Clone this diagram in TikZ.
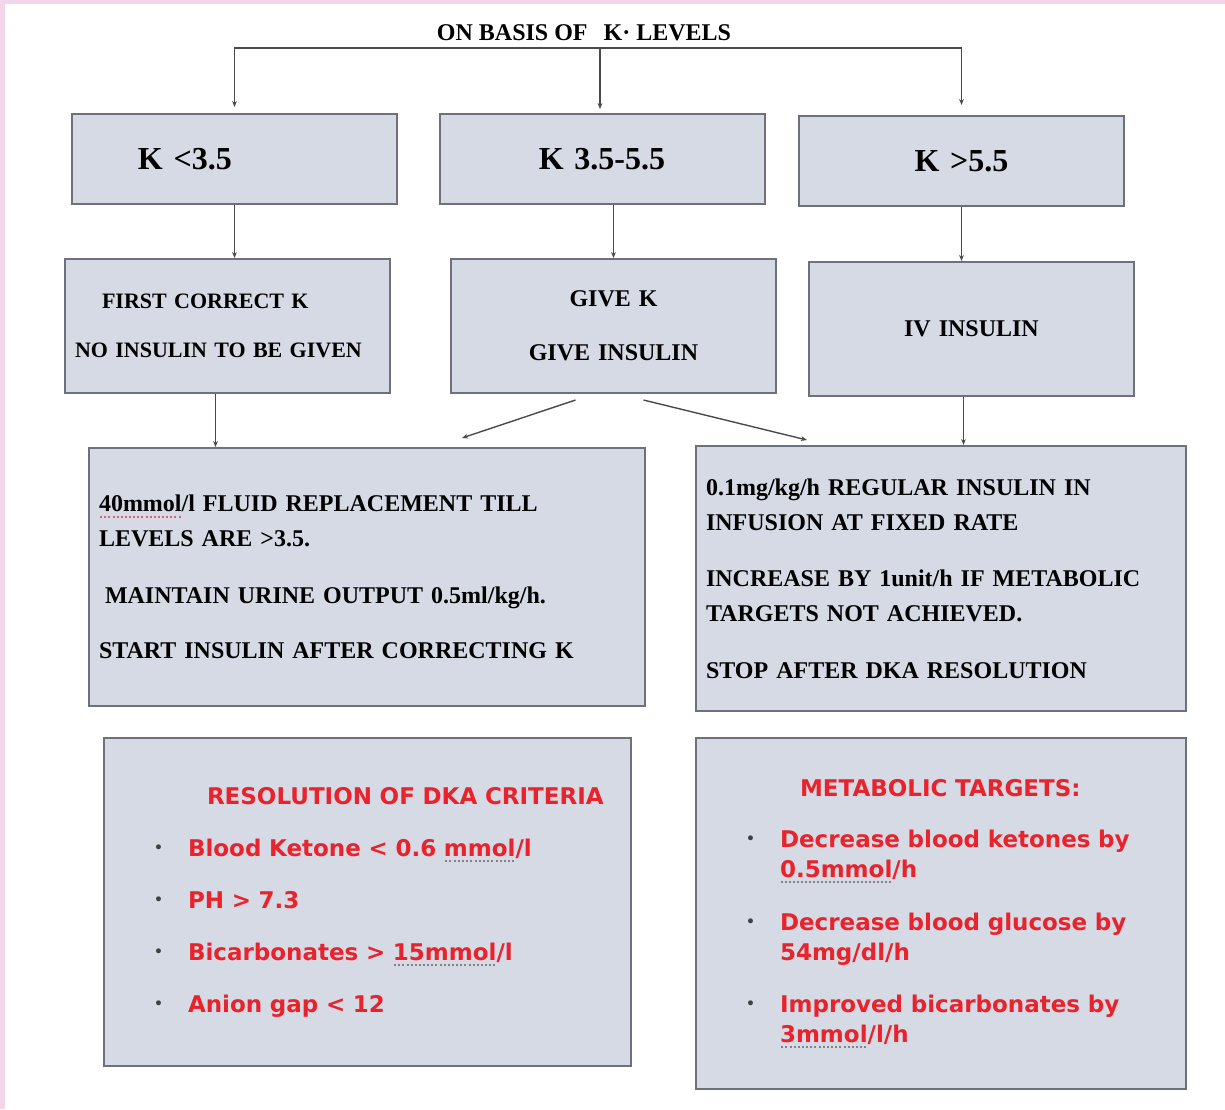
\documentclass[tikz,border=0pt]{standalone}
\usepackage{fontspec}
\setmainfont{Liberation Serif}
\newfontfamily\verdfont{DejaVu Sans}
\usetikzlibrary{arrows.meta}
\definecolor{boxfill}{HTML}{D6DAE5}
\definecolor{boxedge}{HTML}{6C717C}
\definecolor{critred}{HTML}{E8232B}
\definecolor{pinkedge}{HTML}{F3D6E9}
\definecolor{linkgray}{HTML}{4A4A4A}
\definecolor{markred}{HTML}{E0607A}
\definecolor{markgray}{HTML}{8A7F86}
\newcommand{\bul}{\hspace*{20pt}\makebox[17pt][l]{\raisebox{2pt}{\color{darkgray}\scriptsize\textbullet}}}
\newcommand{\cont}{\hspace*{37pt}}
\newsavebox\spellbox
\newcommand{\spell}[3]{\sbox\spellbox{#3}\rlap{\color{#1}\raisebox{-3pt}{\hbox to\wd\spellbox{\xleaders\hbox to 2pt{\hss\rule{1pt}{0.8pt}\hss}\hfill}}}\textcolor{#2}{#3}}

\begin{document}
\begin{tikzpicture}[x=0.5pt,y=-0.5pt,
  kbox/.style={draw=boxedge,fill=boxfill,line width=1pt,inner xsep=5pt,inner ysep=0pt},
  link/.style={draw=linkgray,line width=0.7pt,-{Stealth[length=3pt,width=2.4pt]}},
  crit/.style={kbox,align=left,text=critred,font=\verdfont\bfseries\fontsize{11.5}{26}\selectfont}]
\useasboundingbox (0,0) rectangle (1225,1109);
\fill[white] (0,0) rectangle (1225,1109);
\fill[pinkedge] (0,0) rectangle (5,1109);
\fill[pinkedge] (0,0) rectangle (1225,4);

\node[font=\bfseries\fontsize{12}{14}\selectfont] (basis) at (584,33) {ON BASIS OF\hspace{8pt}K· LEVELS};

% potassium levels
\node[kbox,minimum height=45pt,text width=152.5pt,align=left,font=\bfseries\fontsize{16}{19}\selectfont] (klow) at (234.5,159) {\hspace*{28pt}K <3.5};
\node[kbox,minimum height=45pt,text width=152.5pt,align=center,font=\bfseries\fontsize{16}{19}\selectfont] (kmid) at (602,159) {K 3.5-5.5};
\node[kbox,minimum height=45pt,text width=152.5pt,align=center,font=\bfseries\fontsize{16}{19}\selectfont] (khigh) at (961.5,161) {K >5.5};

% first step
\node[kbox,minimum height=67pt,text width=152.5pt,align=left,font=\bfseries\fontsize{11}{24.5}\selectfont] (corr) at (227.5,326) {\hspace*{13.5pt}FIRST CORRECT K\\NO INSULIN TO BE GIVEN};
\node[kbox,minimum height=67pt,text width=152.5pt,align=center,font=\bfseries\fontsize{12}{27}\selectfont] (give) at (613.5,326) {GIVE K\\GIVE INSULIN};
\node[kbox,minimum height=67pt,text width=152.5pt,align=center,font=\bfseries\fontsize{12}{27}\selectfont] (ivins) at (971.5,329) {IV INSULIN};

% management
\node[kbox,minimum height=129pt,text width=268pt,align=left,font=\bfseries\fontsize{12}{17.5}\selectfont] (fluid) at (367,577) {\spell{markred}{black}{40mmol}/l FLUID REPLACEMENT TILL\\LEVELS ARE >3.5.\\[11pt]\hspace*{3pt}MAINTAIN URINE OUTPUT 0.5ml/kg/h.\\[10pt]START INSULIN AFTER CORRECTING K};
\node[kbox,minimum height=132.5pt,text width=235pt,align=left,font=\bfseries\fontsize{12}{17.5}\selectfont] (infus) at (941,578.5) {0.1mg/kg/h REGULAR INSULIN IN\\INFUSION AT FIXED RATE\\[10.5pt]INCREASE BY 1unit/h IF METABOLIC\\TARGETS NOT ACHIEVED.\\[11pt]STOP AFTER DKA RESOLUTION};

% criteria and targets
\node[crit,minimum height=164pt,text width=253.5pt] (resol) at (367.5,902) {\hspace*{46.5pt}RESOLUTION OF DKA CRITERIA\\
\bul Blood Ketone < 0.6 \spell{markgray}{critred}{mmol}/l\\
\bul PH > 7.3\\
\bul Bicarbonates > \spell{markgray}{critred}{15mmol}/l\\
\bul Anion gap < 12};
\node[crit,minimum height=175.5pt,text width=235pt,font=\verdfont\bfseries\fontsize{11.5}{15}\selectfont] (targ) at (941,913.5) {\hspace*{47pt}METABOLIC TARGETS:\\[10.5pt]
\bul Decrease blood ketones by\\\cont\spell{markgray}{critred}{0.5mmol}/h\\[11.5pt]
\bul Decrease blood glucose by\\\cont 54mg/dl/h\\[11pt]
\bul Improved bicarbonates by\\\cont\spell{markgray}{critred}{3mmol}/l/h};

% connectors
\coordinate (fork) at (600,48);
\coordinate (gl) at (462,438);
\coordinate (gr) at (807,440);
\draw[link,shorten >=3pt] (fork) -| (klow.north);
\draw[link,shorten >=2pt] (fork) -- (fork |- kmid.north);
\draw[link,shorten >=5pt] (fork) -| (khigh.north);
\draw[link] (klow.south) -- (klow.south |- corr.north);
\draw[link] (give.north |- kmid.south) -- (give.north);
\draw[link] (khigh.south) -- (khigh.south |- ivins.north);
\draw[link] ([xshift=-6pt]corr.south) -- ([xshift=-6pt]corr.south |- fluid.north);
\draw[link] ([xshift=-4pt]ivins.south) -- ([xshift=-4pt]ivins.south |- infus.north);
\draw[link] ([shift={(-19pt,-3pt)}]give.south) -- (gl);
\draw[link] ([shift={(15pt,-3pt)}]give.south) -- (gr);
\end{tikzpicture}
\end{document}
